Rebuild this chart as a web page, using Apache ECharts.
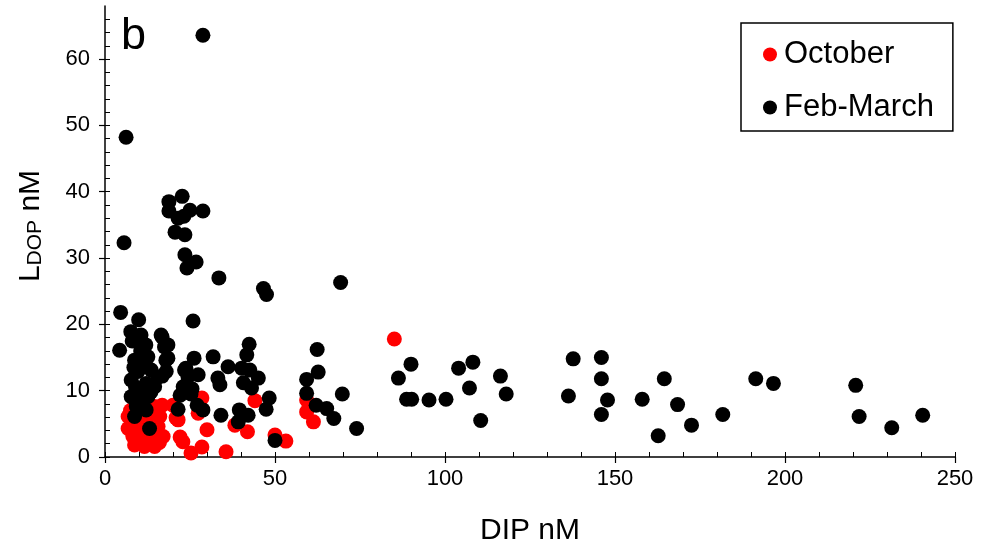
<!DOCTYPE html>
<html>
<head>
<meta charset="utf-8">
<script src="https://cdn.jsdelivr.net/npm/echarts@6/dist/echarts.min.js"></script>
<style>
html,body{margin:0;padding:0;background:#fff;}
#chart{width:984px;height:553px;}
</style>
</head>
<body>
<div id="chart"></div>
<script>
// ---- data (DIP nM, L_DOP nM) ----
var october = [
  [85.1,17.8],[44.1,8.5],[59.3,8.6],[59.3,6.8],[61.3,5.3],[38.2,4.8],[41.9,3.8],[50,3.3],[53.2,2.4],[35.6,0.8],
  [28.5,8.9],[16.8,7.8],[20.9,5.9],[27.4,6.6],[30,4.1],[22.1,3.0],[22.9,2.3],[28.5,1.5],[25.3,0.6],
  [6.8,6.1],[9.2,4.8],[8.2,3.1],[8.7,1.8],[11.6,1.6],[14.6,1.6],[10.7,2.8],[13.6,3.1],[15.6,4.6],[16.1,6.1],
  [14.6,7.6],[17.1,3.1],[20,7.8],[21.5,5.6],[11.2,5.1],[6.8,4.3],[10,6.5],[12.5,6],[7.5,7],[13,4],[9.5,3.8],[16,2.2]
];
var febMarch = [
  [28.8,63.6],[6.2,48.2],[5.6,32.3],
  [22.7,39.3],[18.8,38.5],[18.8,37.1],[25,37.2],[28.8,37.1],[21.5,36],[23.2,36.3],[20.6,33.9],[23.5,33.5],
  [23.5,30.5],[26.8,29.4],[24.1,28.5],[33.5,27],
  [46.6,25.4],[47.5,24.5],[69.3,26.3],
  [25.9,20.5],[16.8,18.1],[18.5,16.9],[42.4,17],[41.7,15.4],[31.8,15.1],[26.2,14.9],[18.5,14.9],[36.2,13.6],
  [23.8,13.4],[40.2,13.4],[42.6,13.1],[16.8,12.2],[27.4,12.4],[33.2,11.9],[45.1,11.9],[24.4,12.1],[33.8,10.9],
  [40.7,11.2],[43.1,10.4],[23,10.6],[25.6,10.3],[22.1,9.3],[25.3,9.5],[48.3,8.9],[21.5,7.2],[27.1,7.8],
  [28.8,7.1],[34.1,6.3],[39.5,7.1],[47.4,7.2],[42.1,6.3],[39.2,5.3],[50,2.5],
  [4.6,21.8],[9.9,20.7],[7.6,18.9],[10.6,18.4],[16.5,18.4],[4.3,16.1],[12,16.9],[17.5,16.6],[8.7,14.6],
  [12.6,15.1],[17.9,14.6],[9.7,12.9],[13.6,13.1],[18,12.9],[7.7,11.6],[12.1,11.1],[14.6,10.6],[10.2,10.1],
  [7.7,9.1],[12.6,9.1],[9.2,7.6],[12.1,7.1],[8.7,6.1],[13.1,4.3],[23.4,13.1],
  [8,17.5],[11,14],[9,10.5],[11,8.5],[15.5,12],[10.5,16],[13.5,9.8],[8.5,13.5],
  [62.4,16.2],[62.7,12.8],[59.3,11.7],[59.3,9.6],[62.1,7.8],[65.2,7.3],[67.3,5.8],[69.8,9.5],[74,4.3],
  [90,14],[86.3,11.9],[88.7,8.7],[90.2,8.7],[95.3,8.6],[100.3,8.7],[104,13.4],[108.2,14.3],[107.2,10.4],
  [110.5,5.5],[116.3,12.2],[118,9.5],[136.3,9.2],[137.7,14.8],[146,15],[146,11.8],[147.8,8.6],[146,6.4],
  [158,8.7],[164.5,11.8],[162.7,3.2],[168.4,7.9],[172.5,4.8],[181.7,6.4],[191.4,11.8],[196.6,11.1],
  [220.8,10.8],[221.8,6.1],[231.4,4.4],[240.5,6.3]
];
var seriesNames = ['October', 'Feb-March'];
var xMajorTicks = [0, 50, 100, 150, 200, 250];
var xMinorTicks = [0,10,20,30,40,50,60,70,80,90,100,110,120,130,140,150,160,170,180,190,200,210,220,230,240,250];
var yMajorTicks = [0, 10, 20, 30, 40, 50, 60];
var yMinorTicks = [0,2,4,6,8,10,12,14,16,18,20,22,24,26,28,30,32,34,36,38,40,42,44,46,48,50,52,54,56,58,60,62,64,66];

var FONT = 'Liberation Sans, Arial, sans-serif';
var chart = echarts.init(document.getElementById('chart'), null, {renderer: 'canvas'});

var option = {
  backgroundColor: '#fff',
  animation: false,
  grid: {left: 105, right: 29, top: 6, bottom: 96, containLabel: false, outerBoundsMode: 'none'},
  legend: {
    data: seriesNames,
    orient: 'vertical',
    left: 741, top: 23,
    padding: [16, 19, 8, 22],
    itemGap: 22,
    itemWidth: 14, itemHeight: 14,
    icon: 'circle',
    borderColor: '#000', borderWidth: 1.5, backgroundColor: '#fff',
    textStyle: {fontFamily: FONT, fontSize: 31, color: '#000', padding: [0, 0, 0, 2]}
  },
  xAxis: [{
    type: 'value', min: 0, max: 250, position: 'bottom',
    name: 'DIP nM', nameLocation: 'middle', nameGap: 59,
    nameTextStyle: {fontFamily: FONT, fontSize: 30, color: '#000'},
    axisLine: {show: true, onZero: false, lineStyle: {color: '#000', width: 1.5}},
    axisTick: {show: true, inside: false, length: 6, customValues: xMajorTicks, lineStyle: {color: '#000', width: 1.2}},
    axisLabel: {show: true, margin: 11, customValues: xMajorTicks, fontFamily: FONT, fontSize: 22, color: '#000'},
    splitLine: {show: false}
  }, {
    type: 'value', min: 0, max: 250, position: 'bottom', offset: 0,
    axisLine: {show: false},
    axisTick: {show: true, inside: true, length: 5, customValues: xMinorTicks, lineStyle: {color: '#000', width: 1}},
    axisLabel: {show: false},
    splitLine: {show: false}
  }],
  yAxis: [{
    type: 'value', min: 0, max: 68, position: 'left',
    axisLine: {show: true, onZero: false, lineStyle: {color: '#000', width: 1.5}},
    axisTick: {show: true, inside: false, length: 6, customValues: yMajorTicks, lineStyle: {color: '#000', width: 1.2}},
    axisLabel: {show: true, margin: 15, customValues: yMajorTicks, fontFamily: FONT, fontSize: 22, color: '#000'},
    splitLine: {show: false}
  }, {
    type: 'value', min: 0, max: 68, position: 'left', offset: 0,
    axisLine: {show: false},
    axisTick: {show: true, inside: true, length: 5, customValues: yMinorTicks, lineStyle: {color: '#000', width: 1}},
    axisLabel: {show: false},
    splitLine: {show: false}
  }],
  graphic: [{
    type: 'text', left: 121, top: 14, z: 100,
    style: {text: 'b', font: '45px ' + FONT, fill: '#000'}
  }, {
    type: 'text', x: 31, y: 226, rotation: Math.PI / 2, z: 100,
    style: {
      text: '{a|L}{s|DOP}{a| nM}',
      align: 'center', verticalAlign: 'middle',
      rich: {
        a: {fontFamily: FONT, fontSize: 30, lineHeight: 30, verticalAlign: 'top', fill: '#000'},
        s: {fontFamily: FONT, fontSize: 21, lineHeight: 21, padding: [14, 0, 0, 0], verticalAlign: 'bottom', fill: '#000'}
      }
    }
  }],
  series: [{
    name: seriesNames[0], type: 'scatter', xAxisIndex: 0, yAxisIndex: 0,
    symbol: 'circle', symbolSize: 15,
    itemStyle: {color: '#ff0000', opacity: 1},
    data: october
  }, {
    name: seriesNames[1], type: 'scatter', xAxisIndex: 0, yAxisIndex: 0,
    symbol: 'circle', symbolSize: 15,
    itemStyle: {color: '#000000', opacity: 1},
    data: febMarch
  }]
};
chart.setOption(option);
</script>
</body>
</html>
